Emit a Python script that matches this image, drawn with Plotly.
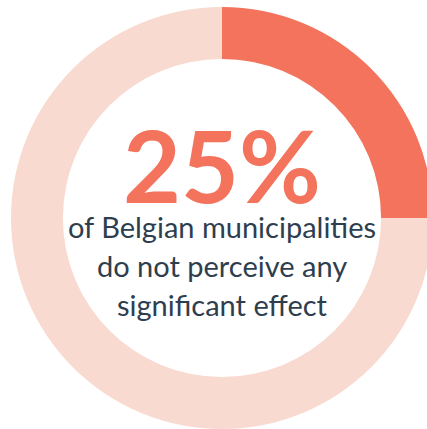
import plotly.graph_objects as go

labels = ["No significant effect", "Other"]
values = [25, 75]
colors = ["#F3735D", "#F9DAD1"]
big_text = "25%"
sub_lines = ["of Belgian municipalities", "do not perceive any", "significant effect"]

fig = go.Figure(go.Pie(
    labels=labels, values=values, hole=0.754, sort=False, direction="clockwise",
    rotation=0, marker=dict(colors=colors, line=dict(width=0)),
    textinfo="none", hoverinfo="skip", showlegend=False,
))

fig.add_annotation(x=0.5, y=0.628, xref="paper", yref="paper", yanchor="middle",
                   text=big_text, showarrow=False,
                   font=dict(family="Lato", size=100, color="#F3735D", weight="bold"))
for txt, yy in zip(sub_lines, [0.4787, 0.3863, 0.2962]):
    fig.add_annotation(x=0.5, y=yy, xref="paper", yref="paper", yanchor="middle",
                       text=txt, showarrow=False, align="center",
                       font=dict(family="Lato", size=29, color="#2E3E4E"))

fig.update_layout(width=444, height=436, margin=dict(l=11, r=11, t=7, b=7),
                  paper_bgcolor="white", plot_bgcolor="white")

fig.write_html("out.html", post_script="document.documentElement.style.overflow='hidden';document.body.style.overflow='hidden';document.body.style.margin='0';")
